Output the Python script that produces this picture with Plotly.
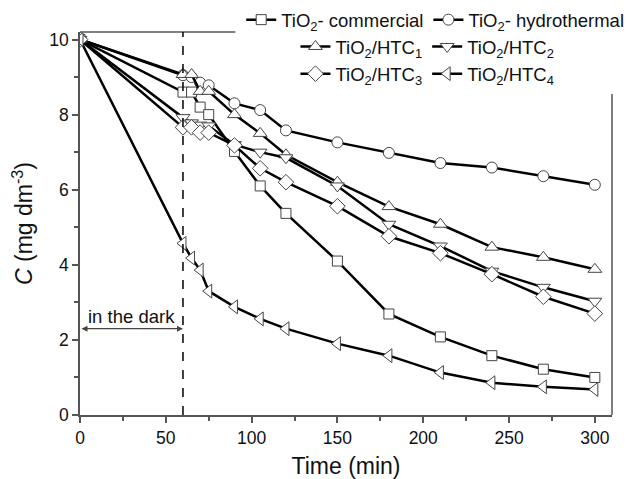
import plotly.graph_objects as go

time_min = [0, 60, 65, 70, 75, 90, 105, 120, 150, 180, 210, 240, 270, 300]

tio2_commercial = [10.0, 8.60, 8.60, 8.20, 8.00, 7.02, 6.10, 5.37, 4.10, 2.69, 2.08, 1.58, 1.22, 1.00]
tio2_hydrothermal = [10.0, 9.05, 9.00, 8.85, 8.78, 8.30, 8.12, 7.58, 7.26, 6.98, 6.71, 6.59, 6.36, 6.13]
tio2_htc1 = [10.0, 9.07, 9.07, 8.62, 8.62, 8.00, 7.50, 6.93, 6.20, 5.55, 5.08, 4.47, 4.20, 3.88]
tio2_htc2 = [10.0, 7.92, 7.78, 7.72, 7.70, 7.20, 7.00, 6.85, 6.10, 5.08, 4.50, 3.83, 3.40, 3.03]
tio2_htc3 = [10.0, 7.66, 7.66, 7.52, 7.52, 7.18, 6.57, 6.20, 5.56, 4.76, 4.31, 3.75, 3.15, 2.70]
tio2_htc4 = [10.0, 4.57, 4.18, 3.86, 3.30, 2.88, 2.56, 2.30, 1.90, 1.58, 1.13, 0.86, 0.75, 0.68]

series = [
    ("TiO<sub>2</sub>- commercial", tio2_commercial, "square", 10, "legend"),
    ("TiO<sub>2</sub>- hydrothermal", tio2_hydrothermal, "circle", 11, "legend"),
    ("TiO<sub>2</sub>/HTC<sub>1</sub>", tio2_htc1, "triangle-up", 12, "legend2"),
    ("TiO<sub>2</sub>/HTC<sub>2</sub>", tio2_htc2, "triangle-down", 12, "legend2"),
    ("TiO<sub>2</sub>/HTC<sub>3</sub>", tio2_htc3, "diamond", 12, "legend3"),
    ("TiO<sub>2</sub>/HTC<sub>4</sub>", tio2_htc4, "triangle-left", 12, "legend3"),
]

fig = go.Figure()
for name, vals, sym, size, leg in series:
    fig.add_trace(go.Scatter(
        x=time_min, y=vals, name=name, mode="lines+markers",
        line=dict(color="black", width=2.5),
        marker=dict(symbol=sym, size=size, color="white",
                    line=dict(color="#444", width=1)),
        legend=leg,
    ))

font_family = "Liberation Sans, Arial, sans-serif"
legend_common = dict(orientation="h", bgcolor="rgba(0,0,0,0)", borderwidth=0,
                     font=dict(family=font_family, size=18.5, color="#111"),
                     xanchor="left", yanchor="middle", itemwidth=30)

fig.update_layout(
    width=633, height=479,
    margin=dict(l=80, r=21, t=32, b=64, autoexpand=False),
    paper_bgcolor="white", plot_bgcolor="white",
    font=dict(family=font_family, color="#111"),
    legend=dict(**legend_common, x=0.303, y=1.031),
    legend2=dict(**legend_common, x=0.405, y=0.961),
    legend3=dict(**legend_common, x=0.405, y=0.89),
    xaxis=dict(range=[0, 310], tickvals=[0, 50, 100, 150, 200, 250, 300],
               showgrid=False, zeroline=False, showline=True, linecolor="#555", linewidth=1.5,
               ticks="outside", ticklen=6, tickwidth=1.5, tickcolor="#555",
               minor=dict(dtick=25, ticks="outside", ticklen=4, tickwidth=1.5, tickcolor="#555"),
               tickfont=dict(size=17.5, family=font_family, color="#111"),
               title=dict(text="Time (min)", font=dict(size=23, family=font_family, color="#111"),
                          standoff=11)),
    yaxis=dict(range=[0, 10.2], tickvals=[0, 2, 4, 6, 8, 10],
               showgrid=False, zeroline=False, showline=True, linecolor="#555", linewidth=1.5,
               ticks="outside", ticklen=6, tickwidth=1.5, tickcolor="#555",
               minor=dict(dtick=1, ticks="outside", ticklen=4, tickwidth=1.5, tickcolor="#555"),
               tickfont=dict(size=17.5, family=font_family, color="#111"),
               title=dict(text="<i>C</i> (mg dm<sup>-3</sup>)",
                          font=dict(size=23, family=font_family, color="#111"), standoff=10)),
)

# partial frame (top and right) as in the original figure
fig.add_shape(type="line", xref="paper", yref="paper", x0=0, x1=0.292, y0=1, y1=1,
              line=dict(color="#555", width=1.5))
fig.add_shape(type="line", xref="paper", yref="paper", x0=1, x1=1, y0=0, y1=0.838,
              line=dict(color="#555", width=1.5))
# dark period boundary
fig.add_shape(type="line", xref="x", yref="paper", x0=60, x1=60, y0=0, y1=1,
              line=dict(color="black", width=1.5, dash="dash"))
# double arrow "in the dark"
fig.add_annotation(x=60, y=2.3, ax=0, ay=2.3, xref="x", yref="y", axref="x", ayref="y",
                   text="", showarrow=True, arrowhead=2, startarrowhead=2, arrowside="end+start",
                   arrowsize=1, arrowwidth=1.2, arrowcolor="#444")
fig.add_annotation(x=30, y=2.62, xref="x", yref="y", text="in the dark", showarrow=False,
                   font=dict(size=18.5, family=font_family, color="#111"))

fig.write_html("out.html")
